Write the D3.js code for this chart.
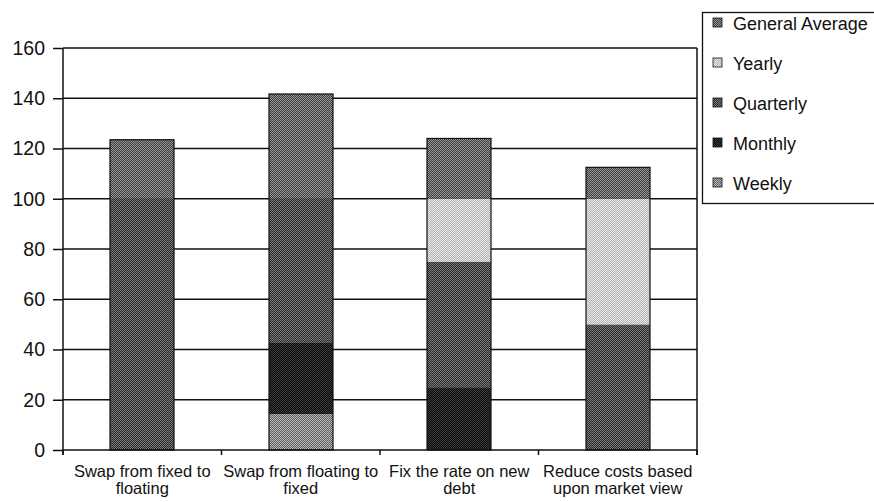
<!DOCTYPE html>
<html>
<head>
<meta charset="utf-8">
<script src="https://cdn.jsdelivr.net/npm/d3@7"></script>
<style>
  html, body { margin: 0; padding: 0; background: #fff; }
  svg { display: block; font-family: "Liberation Sans", Arial, sans-serif; }
</style>
</head>
<body>
<svg id="chart" width="874" height="502"></svg>
<script>
// Categories (two-line labels) and stacked series values
const categories = [
  ["Swap from fixed to", "floating"],
  ["Swap from floating to", "fixed"],
  ["Fix the rate on new", "debt"],
  ["Reduce costs based", "upon market view"]
];
const seriesNames = ["Weekly", "Monthly", "Quarterly", "Yearly", "General Average"];
const weekly         = [0, 14.3, 0, 0];
const monthly        = [0, 28.6, 25, 0];
const quarterly      = [100, 57.1, 50, 50];
const yearly         = [0, 0, 25, 50];
const generalAverage = [23.5, 41.7, 24, 12.5];
const yTicks = [0, 20, 40, 60, 80, 100, 120, 140, 160];
const legendOrder = ["General Average", "Yearly", "Quarterly", "Monthly", "Weekly"];

const seriesValues = {
  "Weekly": weekly,
  "Monthly": monthly,
  "Quarterly": quarterly,
  "Yearly": yearly,
  "General Average": generalAverage
};

// Dithered halftone fills for each series
const fills = {
  "General Average": ["#3a3a3a", "#9a9a9a"],
  "Yearly": ["#b4b4b4", "#e6e6e6"],
  "Quarterly": ["#2a2a2a", "#7a7a7a"],
  "Monthly": ["#0a0a0a", "#3a3a3a"],
  "Weekly": ["#5a5a5a", "#bcbcbc"]
};

const svg = d3.select("#chart");
const plotLeft = 63, plotRight = 697, plotTop = 48, plotBottom = 450;

const defs = svg.append("defs");
seriesNames.forEach((name, i) => {
  const p = defs.append("pattern")
    .attr("id", "pat" + i)
    .attr("patternUnits", "userSpaceOnUse")
    .attr("width", 2).attr("height", 2);
  p.append("rect").attr("width", 2).attr("height", 2).attr("fill", fills[name][0]);
  p.append("rect").attr("x", 0).attr("y", 0).attr("width", 1).attr("height", 1).attr("fill", fills[name][1]);
  p.append("rect").attr("x", 1).attr("y", 1).attr("width", 1).attr("height", 1).attr("fill", fills[name][1]);
});
const fillOf = name => "url(#pat" + seriesNames.indexOf(name) + ")";

const x = d3.scaleBand().domain(d3.range(categories.length)).range([plotLeft, plotRight]).padding(0);
const y = d3.scaleLinear().domain([0, 160]).range([plotBottom, plotTop]);
const barW = x.bandwidth() * 0.405;

// Gridlines
svg.append("g")
  .selectAll("line")
  .data(yTicks.filter(d => d > 0))
  .join("line")
  .attr("x1", plotLeft).attr("x2", plotRight)
  .attr("y1", d => y(d)).attr("y2", d => y(d))
  .attr("stroke", "#111").attr("stroke-width", 1.5);

// Stacked bars
const rows = categories.map((c, i) => {
  const r = { idx: i };
  seriesNames.forEach(s => r[s] = seriesValues[s][i]);
  return r;
});
const stacked = d3.stack().keys(seriesNames)(rows);
const barX = i => Math.round(x(i) + (x.bandwidth() - barW) / 2);

const barsG = svg.append("g");
stacked.forEach(layer => {
  barsG.append("g")
    .selectAll("rect")
    .data(layer.filter(d => d[1] - d[0] > 0))
    .join("rect")
    .attr("x", d => barX(d.data.idx))
    .attr("width", Math.round(barW))
    .attr("y", d => y(d[1]))
    .attr("height", d => y(d[0]) - y(d[1]))
    .attr("fill", fillOf(layer.key));
});
// Bar outlines
barsG.append("g")
  .selectAll("rect")
  .data(rows)
  .join("rect")
  .attr("x", d => barX(d.idx))
  .attr("width", Math.round(barW))
  .attr("y", d => y(d3.sum(seriesNames, s => d[s])))
  .attr("height", d => y(0) - y(d3.sum(seriesNames, s => d[s])))
  .attr("fill", "none").attr("stroke", "#111").attr("stroke-width", 1.2);

// Y axis
const yAxis = svg.append("g")
  .attr("transform", `translate(${plotLeft},0)`)
  .call(d3.axisLeft(y).tickValues(yTicks).tickSize(10).tickPadding(8));
yAxis.select(".domain").attr("stroke", "#111").attr("stroke-width", 1.5)
  .attr("d", `M0,${plotTop}V${plotBottom + 5}`);
yAxis.selectAll(".tick line").attr("stroke", "#111").attr("stroke-width", 1.5);
yAxis.selectAll("text").attr("font-size", 19.5).attr("fill", "#111")
  .attr("font-family", "'Liberation Sans', Arial, sans-serif");

// Right border of plot area
svg.append("line")
  .attr("x1", plotRight).attr("x2", plotRight).attr("y1", plotTop).attr("y2", plotBottom + 5)
  .attr("stroke", "#111").attr("stroke-width", 1.5);

// X axis baseline and category boundary ticks
svg.append("line")
  .attr("x1", plotLeft).attr("x2", plotRight).attr("y1", plotBottom).attr("y2", plotBottom)
  .attr("stroke", "#111").attr("stroke-width", 1.5);
svg.append("g")
  .selectAll("line")
  .data(d3.range(categories.length + 1))
  .join("line")
  .attr("x1", i => plotLeft + i * x.step()).attr("x2", i => plotLeft + i * x.step())
  .attr("y1", plotBottom).attr("y2", plotBottom + 5)
  .attr("stroke", "#111").attr("stroke-width", 1.5);

// Category labels
const catG = svg.append("g");
categories.forEach((lines, i) => {
  const t = catG.append("text")
    .attr("x", x(i) + x.bandwidth() / 2)
    .attr("text-anchor", "middle")
    .attr("font-size", 16.5).attr("fill", "#111");
  lines.forEach((ln, j) => {
    t.append("tspan").attr("x", x(i) + x.bandwidth() / 2)
      .attr("y", 477 + j * 17).text(ln);
  });
});

// Legend
const lg = svg.append("g");
lg.append("rect")
  .attr("x", 702.5).attr("y", 12.5).attr("width", 180).attr("height", 191)
  .attr("fill", "#fff").attr("stroke", "#111").attr("stroke-width", 1.3);
legendOrder.forEach((name, i) => {
  const cy = 23 + i * 40;
  lg.append("rect")
    .attr("x", 713).attr("y", cy - 5).attr("width", 9).attr("height", 9)
    .attr("fill", fillOf(name)).attr("stroke", "#111").attr("stroke-width", 0.8);
  lg.append("text")
    .attr("x", 733).attr("y", cy + 6.5)
    .attr("font-size", 18).attr("fill", "#111")
    .text(name);
});
</script>
</body>
</html>
